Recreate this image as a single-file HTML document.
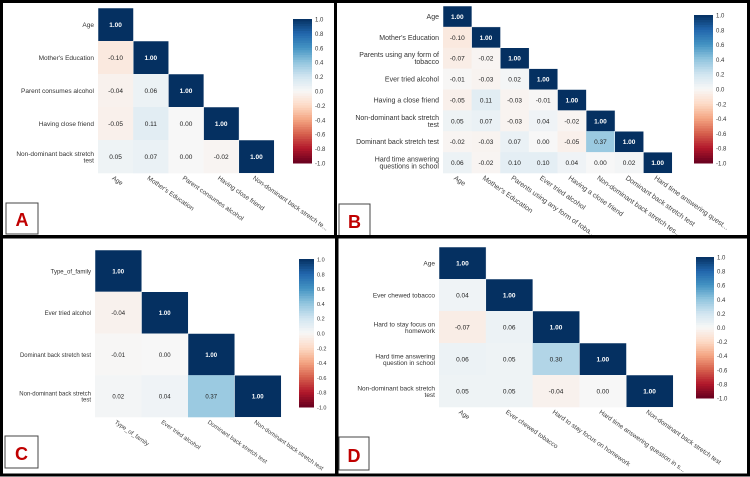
<!DOCTYPE html>
<html><head><meta charset="utf-8"><style>
html,body{margin:0;padding:0;background:#fff;}
svg{display:block;font-family:"Liberation Sans",sans-serif;}
</style></head><body>
<svg id="fig" width="750" height="477" viewBox="0 0 750 477"></svg>
<script>
// ---- data ----
const aLabels=["Age","Mother's Education","Parent consumes alcohol","Having close friend","Non-dominant back stretch|test"];
const aXLabels=["Age","Mother's Education","Parent consumes alcohol","Having close friend","Non-dominant back stretch te..."];
const aValues=[[1],[-0.10,1],[-0.04,0.06,1],[-0.05,0.11,0.00,1],[0.05,0.07,0.00,-0.02,1]];
const bLabels=["Age","Mother's Education","Parents using any form of|tobacco","Ever tried alcohol","Having a close friend","Non-dominant back stretch|test","Dominant back stretch test","Hard time answering|questions in school"];
const bXLabels=["Age","Mother's Education","Parents using any form of toba...","Ever tried alcohol","Having a close friend","Non-dominant back stretch tes...","Dominant back stretch test","Hard time answering quest..."];
const bValues=[[1],[-0.10,1],[-0.07,-0.02,1],[-0.01,-0.03,0.02,1],[-0.05,0.11,-0.03,-0.01,1],[0.05,0.07,-0.03,0.04,-0.02,1],[-0.02,-0.03,0.07,0.00,-0.05,0.37,1],[0.06,-0.02,0.10,0.10,0.04,0.00,0.02,1]];
const cLabels=["Type_of_family","Ever tried alcohol","Dominant back stretch test","Non-dominant back stretch|test"];
const cXLabels=["Type_of_family","Ever tried alcohol","Dominant back stretch test","Non-dominant back stretch test"];
const cValues=[[1],[-0.04,1],[-0.01,0.00,1],[0.02,0.04,0.37,1]];
const dLabels=["Age","Ever chewed tobacco","Hard to stay focus on|homework","Hard time answering|question in school","Non-dominant back stretch|test"];
const dXLabels=["Age","Ever chewed tobacco","Hard to stay focus on homework","Hard time answering question in s...","Non-dominant back stretch test"];
const dValues=[[1],[0.04,1],[-0.07,0.06,1],[0.06,0.05,0.30,1],[0.05,0.05,-0.04,0.00,1]];
const cbTicks=[1.0,0.8,0.6,0.4,0.2,0.0,-0.2,-0.4,-0.6,-0.8,-1.0];

const NS="http://www.w3.org/2000/svg";
const svg=document.getElementById('fig');
function mk(tag,attrs,parent){const e=document.createElementNS(NS,tag);for(const k in attrs)e.setAttribute(k,attrs[k]);(parent||svg).appendChild(e);return e;}
const stops=["#67001f","#b2182b","#d6604d","#f4a582","#fddbc7","#f7f7f7","#d1e5f0","#92c5de","#4393c3","#2166ac","#053061"];
function hex(h){return [1,3,5].map(i=>parseInt(h.substr(i,2),16));}
function color(v){let t=(Math.max(-1,Math.min(1,v))+1)/2*10;let i=Math.min(9,Math.floor(t));let f=t-i;const a=hex(stops[i]),b=hex(stops[i+1]);return "rgb("+a.map((x,k)=>Math.round(x+(b[k]-x)*f)).join(",")+")";}

function panel(key,labels,xlabels,values,P){
  const g=mk('g',{});
  
  
  const n=labels.length,cw=(P.x1-P.x0)/n,ch=(P.y1-P.y0)/n;
  const xs=i=>P.x0+i*cw, ys=i=>P.y0+i*ch;
  values.forEach((row,r)=>row.forEach((v,c)=>{
    const rc=mk('rect',{x:xs(c),y:ys(r),width:cw+0.3,height:ch+0.3,fill:color(v),stroke:v>=0.99?'#fff':'none','stroke-width':0.5},g);
    
    
    const t=mk('text',{x:xs(c)+cw/2,y:ys(r)+ch/2+2.5,'text-anchor':'middle','font-size':P.fs,fill:Math.abs(v)>0.6?'#fff':'#222','font-weight':v>=0.99?'bold':'normal'},g);
    t.textContent=v.toFixed(2);
    
    
  }));
  labels.forEach((l,i)=>{
    const parts=l.split('|');
    const t=mk('text',{x:P.x0-4,y:ys(i)+ch/2+2.5-(parts.length-1)*P.lf/2,'text-anchor':'end','font-size':P.lf,fill:'#333'},g);
    parts.forEach((p,k)=>{const s=mk('tspan',{x:P.x0-4,dy:k?P.lf:0},t);s.textContent=p;});
    
    
  });
  xlabels.forEach((l,i)=>{
    const x=xs(i)+cw/2-4,y=P.y1+6;
    const t=mk('text',{x:x,y:y,'font-size':P.lf,fill:'#444',transform:'rotate(35 '+x+' '+y+')'},g);
    t.textContent=l;
    
    
  });
  const C=P.cb,steps=60;
  for(let i=0;i<steps;i++){
    const v=1-2*(i+0.5)/steps;
    const r=mk('rect',{x:C[0],y:C[1]+(C[3]-C[1])*i/steps,width:C[2]-C[0],height:(C[3]-C[1])/steps+0.5,fill:color(v)},g);
    
    
  }
  cbTicks.forEach(v=>{
    const y=C[1]+(1-v)/2*(C[3]-C[1]);
    const t=mk('text',{x:C[2]+3,y:y+2.5,'font-size':P.tf,fill:'#333'},g);
    t.textContent=v.toFixed(1);
    
    
  });
  const B=P.box;
  const br=mk('rect',{x:B[0],y:B[1],width:B[2]-B[0],height:B[3]-B[1],fill:'#fff',stroke:'#444','stroke-width':1},g);
  
  
  const lt=mk('text',{x:(B[0]+B[2])/2,y:B[3]-8,'text-anchor':'middle','font-size':18,'font-weight':'bold',fill:'#c00000'},g);
  lt.textContent=key.toUpperCase();
  
  
}
panel('a',aLabels,aXLabels,aValues,{x0:98,x1:274,y0:8,y1:173,fs:6.5,lf:6.5,tf:6,cb:[293,19,312,163],box:[6,203,38,234]});
panel('b',bLabels,bXLabels,bValues,{x0:443,x1:672,y0:6,y1:173,fs:6.5,lf:7,tf:6,cb:[694,15,713,163],box:[339,204,370,236]});
panel('c',cLabels,cXLabels,cValues,{x0:95,x1:281,y0:250,y1:417,fs:6,lf:6,tf:5.5,cb:[299,259,314,407],box:[5,436,38,468]});
panel('d',dLabels,dXLabels,dValues,{x0:439,x1:673,y0:247,y1:407,fs:6.5,lf:6.5,tf:6,cb:[696,257,714,398],box:[339,437,369,470]});
[[1.5,1.5,334,235],[335.5,1.5,413,235],[1.5,237,335,238],[337,237,411.5,238]].forEach(f=>{
  const r=mk('rect',{x:f[0],y:f[1],width:f[2],height:f[3],fill:'none',stroke:'#000','stroke-width':3});
  
  
});
</script>
</body></html>
